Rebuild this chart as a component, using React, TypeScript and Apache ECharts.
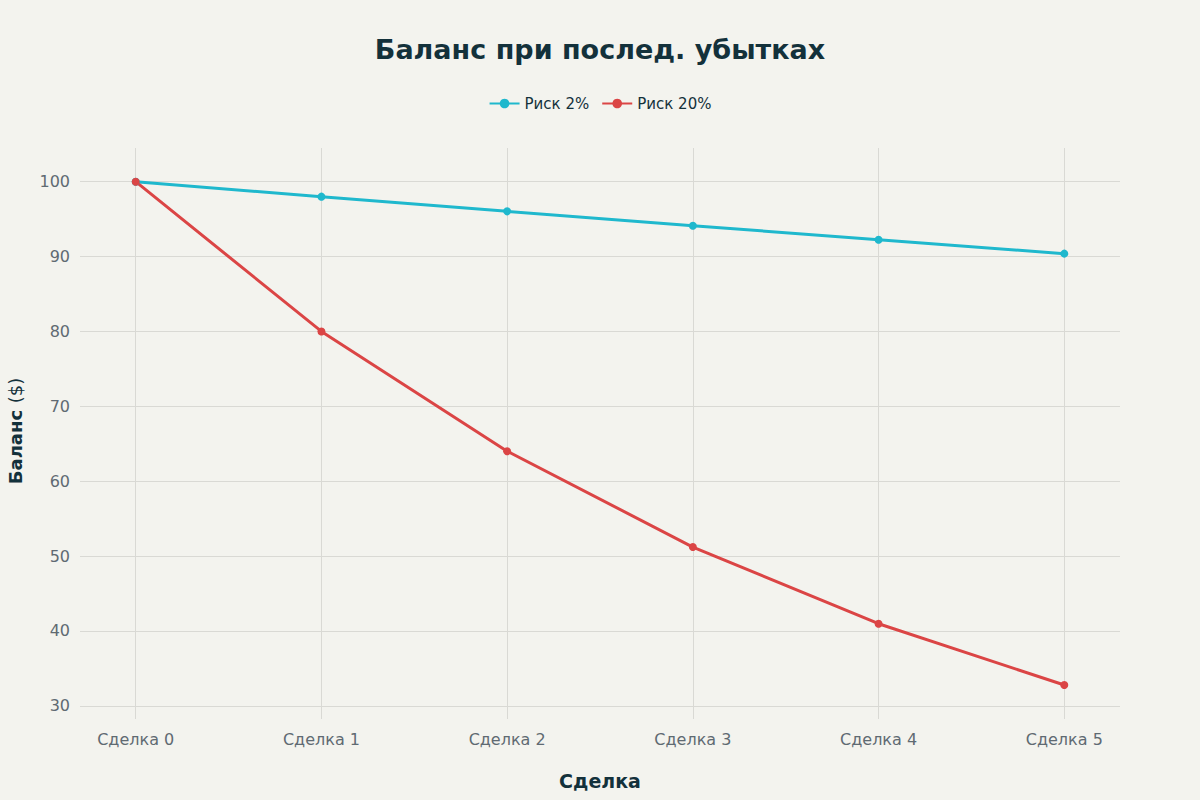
import React, { useEffect, useRef } from 'react'
import * as echarts from 'echarts'

const categories = ['Сделка 0', 'Сделка 1', 'Сделка 2', 'Сделка 3', 'Сделка 4', 'Сделка 5']
const risk2 = [100, 98, 96.04, 94.12, 92.24, 90.39]
const risk20 = [100, 80, 64, 51.2, 40.96, 32.77]
const yTicks = [30, 40, 50, 60, 70, 80, 90, 100]
const xTicks = [0, 1, 2, 3, 4, 5]

const App: React.FC = () => {
    const chartRef = useRef<HTMLDivElement | null>(null)

    useEffect(() => {
        if (!chartRef.current) return
        const chart = echarts.init(chartRef.current, null, { renderer: 'svg' })

        const gridColor = '#d9d9d4'
        const labelColor = '#5f6a72'
        const darkColor = '#13313b'

        const options: any = {
            animation: false,
            backgroundColor: '#f3f3ee',
            title: {
                text: 'Баланс при послед. убытках',
                left: 'center',
                top: 31,
                textStyle: {
                    fontFamily: 'DejaVu Sans',
                    fontWeight: 'bold',
                    fontSize: 27,
                    color: darkColor,
                },
            },
            legend: {
                top: 91,
                left: 'center',
                itemWidth: 30,
                itemHeight: 12,
                itemGap: 12,
                textStyle: { fontFamily: 'DejaVu Sans', fontSize: 15, color: darkColor },
                data: ['Риск 2%', 'Риск 20%'],
            },
            grid: { left: 80, right: 80, top: 148, bottom: 86, containLabel: false, outerBoundsMode: 'none' },
            xAxis: {
                type: 'value',
                min: -0.3,
                max: 5.3,
                name: 'Сделка',
                nameLocation: 'middle',
                nameGap: 57,
                nameTextStyle: { fontFamily: 'DejaVu Sans', fontWeight: 'bold', fontSize: 19, color: darkColor },
                axisLine: { show: false },
                axisTick: { show: true, length: 5, customValues: xTicks, lineStyle: { color: gridColor } },
                axisLabel: {
                    customValues: xTicks,
                    margin: 17,
                    fontFamily: 'DejaVu Sans',
                    fontSize: 16,
                    color: labelColor,
                    formatter: (v: number) => categories[Math.round(v)] ?? '',
                },
                splitLine: { show: true, lineStyle: { color: gridColor, width: 1 } },
            },
            yAxis: {
                type: 'value',
                min: 28.9,
                max: 104.5,
                name: '{b|Баланс}  {n|($)}',
                nameLocation: 'middle',
                nameGap: 56,
                nameTextStyle: {
                    rich: {
                        b: { fontFamily: 'DejaVu Sans', fontWeight: 'bold', fontSize: 18, color: darkColor },
                        n: { fontFamily: 'DejaVu Sans', fontSize: 18, color: darkColor },
                    },
                },
                axisLine: { show: false },
                axisTick: { show: true, length: 5, customValues: yTicks, lineStyle: { color: gridColor } },
                axisLabel: {
                    customValues: yTicks,
                    margin: 10,
                    fontFamily: 'DejaVu Sans',
                    fontSize: 16,
                    color: labelColor,
                },
                splitLine: { show: true, lineStyle: { color: gridColor, width: 1 } },
            },
            series: [
                {
                    name: 'Риск 2%',
                    type: 'line',
                    data: risk2.map((v, i) => [i, v]),
                    symbol: 'circle',
                    symbolSize: 8,
                    color: '#1fb8cd',
                    lineStyle: { width: 3 },
                },
                {
                    name: 'Риск 20%',
                    type: 'line',
                    data: risk20.map((v, i) => [i, v]),
                    symbol: 'circle',
                    symbolSize: 8,
                    color: '#db4545',
                    lineStyle: { width: 3 },
                },
            ],
        }

        chart.setOption(options)

        return () => {
            chart.dispose()
        }
    }, [])

    return <div ref={chartRef} style={{ position: 'fixed', left: 0, top: 0, width: '1200px', height: '800px' }} />
}

export default App
